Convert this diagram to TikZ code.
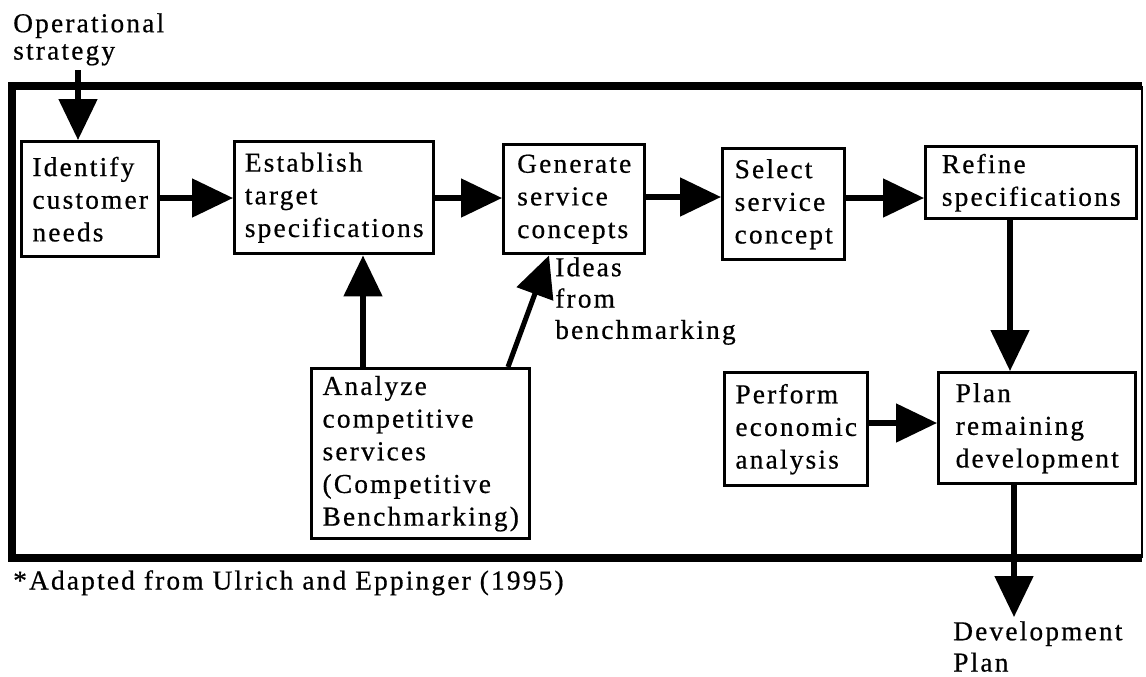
\documentclass[tikz,border=0pt]{standalone}
\usepackage{fontspec}
\setmainfont{Liberation Serif}[LetterSpace=8, FakeBold=0.6]
\usetikzlibrary{arrows.meta,calc}
\begin{document}
\begin{tikzpicture}[x=0.75pt,y=-0.75pt,
  lbl/.style={font=\fontsize{20.5}{24.5}\selectfont, inner sep=0pt, align=left, anchor=north west},
  box/.style={draw, line width=2.6pt, fill=white, font=\fontsize{20.5}{24.5}\selectfont, align=left, anchor=north west, inner sep=0pt},
  arr/.style={line width=3.8pt, -{Triangle[length=30.75pt,width=28.5pt]}},
  frame/.style={line width=6.4pt, line join=miter}]
\useasboundingbox (0,0) rectangle (1146,676);
% outer frame
\draw[frame] (1142,86) -- (12,86) -- (12,558) -- (1142,558);
\draw[line width=2pt] (1142,86) -- (1142,558);
% boxes
\node[box, minimum width=102.75pt, minimum height=86.25pt] (id) at (20,140) {Identify\\customer\\needs};
\node[box, minimum width=149.25pt, minimum height=84pt] (est) at (233,140) {Establish\\target\\specifications};
\node[box, minimum width=105.75pt, minimum height=81.75pt] (gen) at (502,143) {Generate\\service\\concepts};
\node[box, minimum width=91.5pt, minimum height=83.25pt] (sel) at (721,147) {Select\\service\\concept};
\node[box, minimum width=158.25pt, minimum height=54pt] (ref) at (924,145) {Refine\\specifications};
\node[box, minimum width=163.5pt, minimum height=127.5pt] (an) at (310,367) {Analyze\\competitive\\services\\(Competitive\\Benchmarking)};
\node[box, minimum width=107.25pt, minimum height=84.75pt] (perf) at (723,371) {Perform\\economic\\analysis};
\node[box, minimum width=147.75pt, minimum height=83.25pt] (plan) at (937,371) {Plan\\remaining\\development};
% labels
\node[lbl, font=\fontsize{20.5}{20.5}\selectfont] (op) at (13,13) {Operational\\strategy};
\node[lbl, font=\fontsize{20.5}{23.5}\selectfont] (ideas) at (555,257) {Ideas\\from\\benchmarking};
\node[lbl, font=\fontsize{20.5}{23.5}\selectfont] (dev) at (953,621) {Development\\Plan};
\node[lbl] (src) at (13,570) {*Adapted from Ulrich and Eppinger (1995)};
% helper coordinates
\coordinate (opstart) at (78,70);
\coordinate (ya) at (0,198);
\coordinate (yb) at (0,198);
\coordinate (yc) at (0,197);
\coordinate (yd) at (0,198);
\coordinate (ye) at (0,423);
\coordinate (xa) at (1010,0);
\coordinate (xb) at (1014,0);
\coordinate (xc) at (363,0);
\coordinate (xd) at (508,0);
\coordinate (xe) at (549,0);
\coordinate (devtip) at (1014,617);
% connectors
\draw[arr] (opstart) -- (id.north -| opstart);
\draw[arr] (id.east |- ya) -- (est.west |- ya);
\draw[arr] (est.east |- yb) -- (gen.west |- yb);
\draw[arr] (gen.east |- yc) -- (sel.west |- yc);
\draw[arr] (sel.east |- yd) -- (ref.west |- yd);
\draw[arr] (ref.south -| xa) -- (plan.north -| xa);
\draw[arr] (perf.east |- ye) -- (plan.west |- ye);
\draw[arr] (an.north -| xc) -- (est.south -| xc);
\draw[arr] (an.north -| xd) -- (gen.south -| xe);
\draw[arr] (plan.south -| xb) -- (devtip);
\end{tikzpicture}
\end{document}
